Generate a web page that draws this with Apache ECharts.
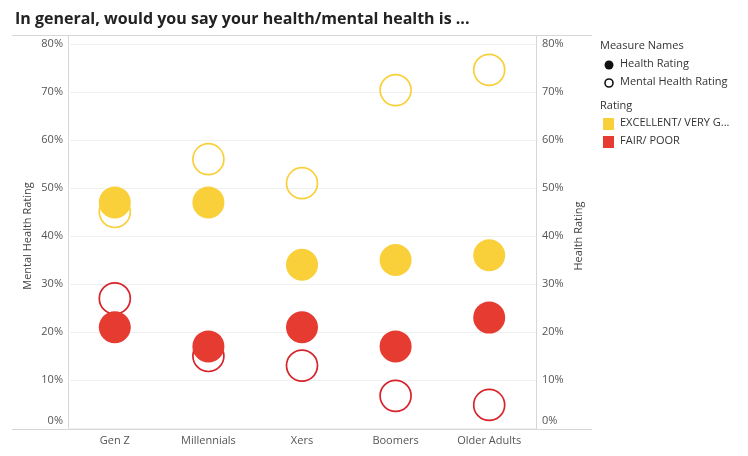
<!DOCTYPE html>
<html><head><meta charset="utf-8">
<script src="https://cdn.jsdelivr.net/npm/echarts@6/dist/echarts.min.js"></script>
<style>html,body{margin:0;padding:0;background:#fff}#c{width:748px;height:456px}</style>
</head><body><div id="c"></div>
<script>
const categories = ['Gen Z', 'Millennials', 'Xers', 'Boomers', 'Older Adults'];
const healthExcellent = [47, 47, 34, 35, 36];
const healthFair = [21, 17, 21, 17, 23];
const mentalExcellent = [45, 56, 51, 70.4, 74.6];
const mentalFair = [27, 15, 13, 6.7, 4.8];
const yTicks = [0, 10, 20, 30, 40, 50, 60, 70, 80];

const YELLOW = '#F9D03A';
const RED = '#E63B30';
const FONT = 'Open Sans';

const chart = echarts.init(document.getElementById('c'), null, {renderer: 'canvas'});
const yAxisCommon = {
  type: 'value', min: yTicks[0], max: yTicks[yTicks.length - 1], interval: 10,
  axisLine: {show: false}, axisTick: {show: false},
  nameLocation: 'middle', nameRotate: 90, nameMoveOverlap: false,
  nameTextStyle: {color: '#444', fontSize: 11, fontFamily: FONT},
  axisLabel: {
    color: '#555', fontSize: 11, fontFamily: FONT, margin: 5,
    formatter: v => v === 0 ? '{z|0%}' : v + '%',
    rich: {z: {padding: [0, 0, 14, 0], color: '#555', fontSize: 11, fontFamily: FONT}}
  }
};
const filled = (name, data, color) => ({
  name, type: 'scatter', yAxisIndex: 1, data, symbol: 'circle', symbolSize: 32, z: 3,
  itemStyle: {color, opacity: 1}, silent: true
});
const hollow = (name, data, color) => ({
  name, type: 'scatter', yAxisIndex: 0, data, symbol: 'circle', symbolSize: 31, z: 2,
  itemStyle: {color: 'rgba(255,255,255,0)', borderColor: color, borderWidth: 1.7, opacity: 1}, silent: true
});
const lineStyle = {stroke: '#d6d6d6', lineWidth: 1};
chart.setOption({
  animation: false,
  textStyle: {fontFamily: FONT},
  title: {text: 'In general, would you say your health/mental health is ...', left: 10, top: 6,
    textStyle: {fontSize: 16, fontWeight: 'bold', color: '#222', fontFamily: FONT}},
  grid: {left: 68, right: 212, top: 44, bottom: 28, containLabel: false},
  xAxis: {
    type: 'category', data: categories, boundaryGap: true,
    axisLine: {show: false}, axisTick: {show: false},
    splitLine: {show: false},
    axisLabel: {color: '#555', fontSize: 11, fontFamily: FONT, margin: 7}
  },
  yAxis: [
    Object.assign({}, yAxisCommon, {position: 'left', name: 'Mental Health Rating', nameGap: 35,
      splitLine: {show: true, lineStyle: {color: '#f0f0f0', width: 1}}}),
    Object.assign({}, yAxisCommon, {position: 'right', name: 'Health Rating', nameGap: 37,
      splitLine: {show: false},
      axisLabel: Object.assign({}, yAxisCommon.axisLabel, {margin: 6})})
  ],
  series: [
    hollow('Mental Health Rating - EXCELLENT/ VERY GOOD', mentalExcellent, YELLOW),
    hollow('Mental Health Rating - FAIR/ POOR', mentalFair, '#D8232A'),
    filled('Health Rating - EXCELLENT/ VERY GOOD', healthExcellent, YELLOW),
    filled('Health Rating - FAIR/ POOR', healthFair, RED)
  ],
  graphic: [
    {type: 'line', shape: {x1: 12, y1: 35.5, x2: 592, y2: 35.5}, style: lineStyle, silent: true},
    {type: 'line', shape: {x1: 12, y1: 429.5, x2: 592, y2: 429.5}, style: lineStyle, silent: true},
    {type: 'line', shape: {x1: 68.5, y1: 36, x2: 68.5, y2: 429}, style: lineStyle, silent: true},
    {type: 'line', shape: {x1: 536.5, y1: 36, x2: 536.5, y2: 429}, style: lineStyle, silent: true},
    {type: 'text', left: 600, top: 40, style: {text: 'Measure Names', fontSize: 11, fill: '#333', fontFamily: FONT}},
    {type: 'circle', shape: {cx: 609, cy: 65, r: 4.5}, style: {fill: '#111'}},
    {type: 'text', left: 620, top: 58, style: {text: 'Health Rating', fontSize: 11, fill: '#333', fontFamily: FONT}},
    {type: 'circle', shape: {cx: 609, cy: 83, r: 4}, style: {fill: '#fff', stroke: '#111', lineWidth: 1.6}},
    {type: 'text', left: 620, top: 76, style: {text: 'Mental Health Rating', fontSize: 11, fill: '#333', fontFamily: FONT}},
    {type: 'text', left: 600, top: 100, style: {text: 'Rating', fontSize: 11, fill: '#333', fontFamily: FONT}},
    {type: 'rect', shape: {x: 603, y: 118, width: 11, height: 12}, style: {fill: YELLOW}},
    {type: 'text', left: 620, top: 117, style: {text: 'EXCELLENT/ VERY G...', fontSize: 11, fill: '#333', fontFamily: FONT}},
    {type: 'rect', shape: {x: 603, y: 136, width: 11, height: 12}, style: {fill: RED}},
    {type: 'text', left: 620, top: 135, style: {text: 'FAIR/ POOR', fontSize: 11, fill: '#333', fontFamily: FONT}}
  ]
});
</script></body></html>
